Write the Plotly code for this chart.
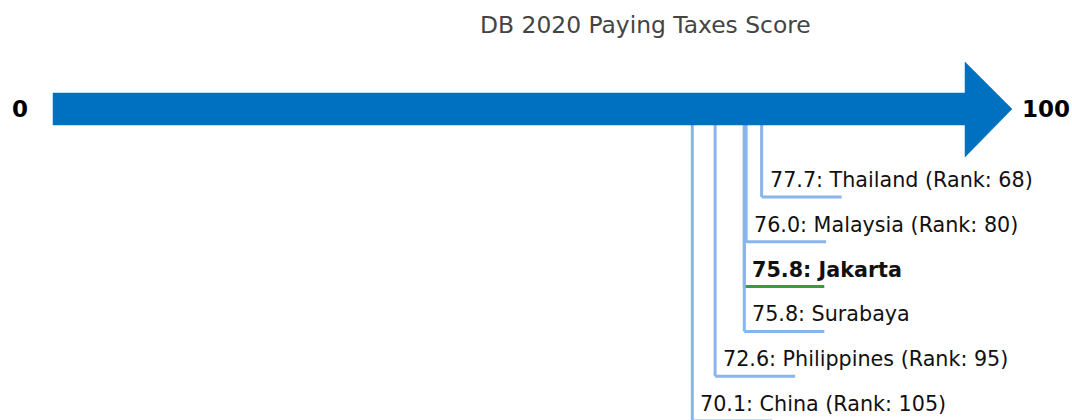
import plotly.graph_objects as go

# Paying Taxes scores (DB 2020) on a 0-100 scale
names = ["Thailand", "Malaysia", "Jakarta", "Surabaya", "Philippines", "China"]
scores = [77.7, 76.0, 75.8, 75.8, 72.6, 70.1]
ranks = [68, 80, None, None, 95, 105]
highlight = [False, False, True, False, False, False]

axis_min, axis_max = 0, 100
title_text = "DB 2020 Paying Taxes Score"

# ---- layout constants (pixel space: 1072 x 420) ----
W, H = 1072, 420
px0, px100 = 53, 965            # where 0 and 100 fall horizontally
upx = (axis_max - axis_min) / (px100 - px0)   # score units per pixel
x_lo = axis_min - px0 * upx
x_hi = axis_max + (W - px100) * upx

shaft_top, shaft_bot = 93, 125
head_top, head_bot = 62, 157
arrow_y = (shaft_top + shaft_bot) / 2
head_len = 47 * upx             # arrow head length in score units

row0, row_gap = 197, 44.8       # y of first underline, spacing between rows
under_len = 80 * upx            # underline length in score units

blue = "#0070C0"
leader = "#8AB4EE"
green = "#2EA043"

fig = go.Figure()

# leader lines: drop from the arrow, then underline the label
for i, (s, hl) in enumerate(zip(scores, highlight)):
    yu = row0 + row_gap * i
    fig.add_trace(go.Scatter(
        x=[s, s], y=[shaft_bot, yu], mode="lines",
        line=dict(color=leader, width=3), hoverinfo="skip", showlegend=False))
    fig.add_trace(go.Scatter(
        x=[s, s + under_len], y=[yu, yu], mode="lines",
        line=dict(color=green if hl else leader, width=3),
        hoverinfo="skip", showlegend=False))

# the big arrow (shaft + head)
ax = [axis_min, axis_max, axis_max, axis_max + head_len, axis_max, axis_max, axis_min, axis_min]
ay = [shaft_top, shaft_top, head_top, arrow_y, head_bot, shaft_bot, shaft_bot, shaft_top]
fig.add_trace(go.Scatter(
    x=ax, y=ay, mode="lines", fill="toself", fillcolor=blue,
    line=dict(color=blue, width=0.5), hoverinfo="skip", showlegend=False))

# labels
for i, (n, s, r, hl) in enumerate(zip(names, scores, ranks, highlight)):
    yu = row0 + row_gap * i
    txt = f"{s:.1f}: {n}"
    if r is not None:
        txt += f" (Rank: {r})"
    if hl:
        txt = f"<b>{txt}</b>"
    fig.add_annotation(
        x=s, y=yu - 17, text=txt, showarrow=False,
        xanchor="left", yanchor="middle", xshift=6,
        font=dict(family="DejaVu Sans", size=20.7, color="#111"))

# axis end labels
fig.add_annotation(x=axis_min, y=arrow_y, text="<b>0</b>", showarrow=False,
                   xanchor="right", yanchor="middle", xshift=-23,
                   font=dict(family="DejaVu Sans", size=23, color="#000"))
fig.add_annotation(x=axis_max + head_len, y=arrow_y, text="<b>100</b>", showarrow=False,
                   xanchor="left", yanchor="middle", xshift=8,
                   font=dict(family="DejaVu Sans", size=23, color="#000"))

# title
fig.add_annotation(x=645 / W, xref="paper", y=25, text=title_text, showarrow=False,
                   xanchor="center", yanchor="middle",
                   font=dict(family="DejaVu Sans", size=23.4, color="#444"))

fig.update_layout(
    width=W, height=H, margin=dict(l=0, r=0, t=0, b=0),
    paper_bgcolor="white", plot_bgcolor="white",
    xaxis=dict(range=[x_lo, x_hi], visible=False, fixedrange=True),
    yaxis=dict(range=[H, 0], visible=False, fixedrange=True),
)

fig.write_html("out.html")
